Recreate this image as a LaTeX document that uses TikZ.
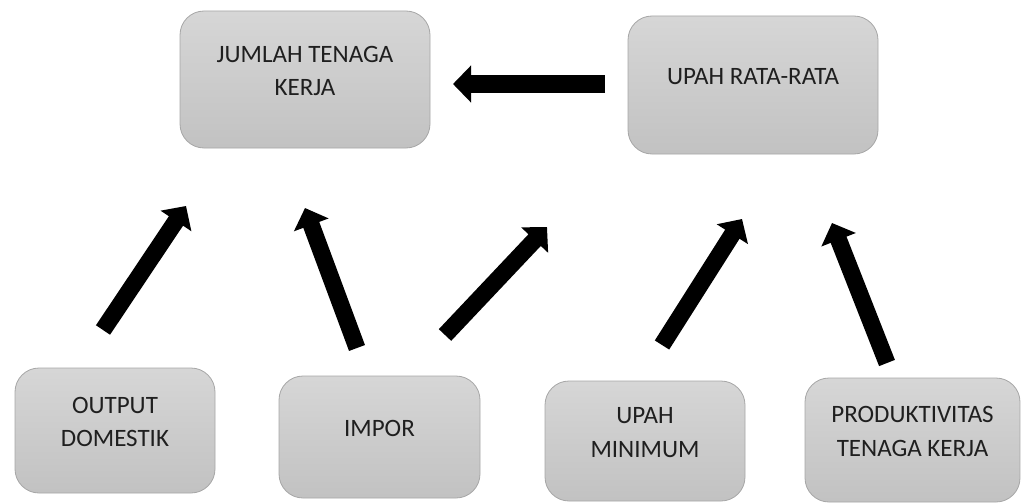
\documentclass[tikz,border=0pt]{standalone}
\usepackage{fontspec}
\setmainfont{Carlito}
\usetikzlibrary{arrows.meta}
\newcommand\teksnaik[1]{\raisebox{7pt}[\height][\depth]{\begin{tabular}{@{}c@{}}#1\end{tabular}}}
\begin{document}
\begin{tikzpicture}[x=1pt,y=-1pt,
	kotak/.style={draw=gray!70, line width=0.8pt, rounded corners=24pt, top color=gray!32, bottom color=gray!48,
		text=black!88, font=\fontsize{25}{33.5}\selectfont, inner sep=0pt},
	panah/.style={line width=17pt, -{Triangle[length=18pt,width=36pt]}}]
	%\draw[help lines] (0,0) grid (1023,503);
	\useasboundingbox (0,0) rectangle (1023,503);
	\node[kotak, minimum width=250pt, minimum height=137pt] (jumlah) at (305,79.5) {\teksnaik{JUMLAH TENAGA\\KERJA}};
	\node[kotak, minimum width=250pt, minimum height=138pt] (upahrata) at (753,85) {\teksnaik{UPAH RATA-RATA}};
	\node[kotak, minimum width=200pt, minimum height=125pt] (output) at (115,430.5) {\teksnaik{OUTPUT\\DOMESTIK}};
	\node[kotak, minimum width=201pt, minimum height=122pt] (impor) at (379.5,437) {\teksnaik{IMPOR}};
	\node[kotak, minimum width=200pt, minimum height=120pt] (upahmin) at (645,441) {\teksnaik{UPAH\\MINIMUM}};
	\node[kotak, minimum width=215pt, minimum height=124pt] (produktif) at (912.5,440) {\teksnaik{PRODUKTIVITAS\\TENAGA KERJA}};
	\coordinate (r0) at (605,84);  \coordinate (t0) at (453,84);
	\coordinate (r1) at (103,330); \coordinate (t1) at (186,206);
	\coordinate (r2) at (357,348); \coordinate (t2) at (305,208);
	\coordinate (r3) at (445,335); \coordinate (t3) at (547,227);
	\coordinate (r4) at (662,345); \coordinate (t4) at (742,219);
	\coordinate (r5) at (887,363); \coordinate (t5) at (832,223);
	\foreach \i in {0,...,5}
		\draw[panah] (r\i) -- (t\i);
\end{tikzpicture}
\end{document}
